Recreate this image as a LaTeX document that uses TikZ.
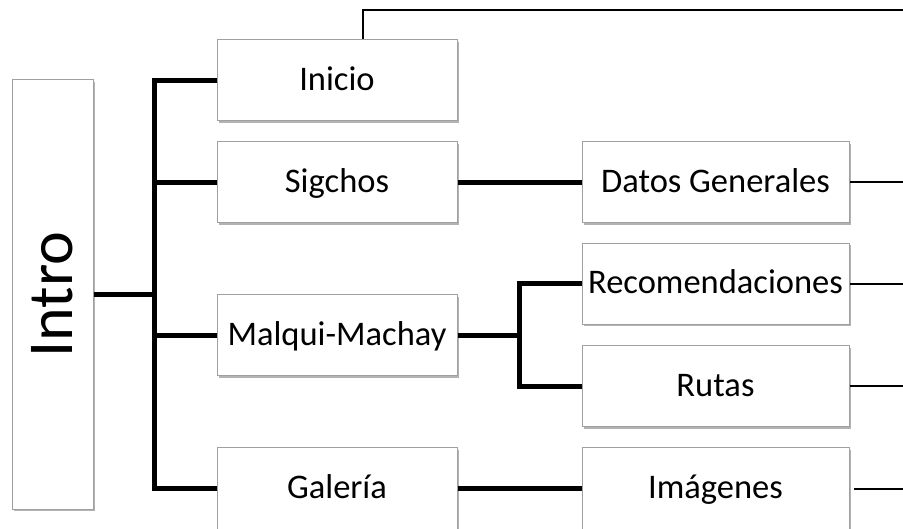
\documentclass[tikz,border=0pt]{standalone}
\usepackage{fontspec}
\setmainfont{Carlito}
\usetikzlibrary{shadows}
\definecolor{boxline}{HTML}{A0A0A0}
\tikzset{
  box/.style={draw=boxline, line width=1pt, fill=white, rectangle, inner sep=0pt,
    minimum width=240pt, minimum height=81pt, font=\fontsize{34.5}{40}\selectfont,
    text height=26pt, text depth=6pt,
    drop shadow={shadow xshift=1.5pt, shadow yshift=-2pt, fill=black!50, opacity=0.6}},
  wbox/.style={box, minimum width=267pt},
  thickline/.style={line width=5pt, black},
  thinline/.style={line width=2pt, black},
}
\begin{document}
\begin{tikzpicture}[x=1pt, y=-1pt]
\useasboundingbox (0,0) rectangle (903,529);
% nodes
\node[box, minimum width=81pt, minimum height=429pt, text height=, text depth=] (intro) at (52.5,294.5)
  {\rotatebox{90}{\fontsize{64}{70}\selectfont Intro}};
\node[box] (inicio) at (337,80.5) {Inicio};
\node[box] (sigchos) at (337,182.5) {Sigchos};
\node[box] (malqui) at (337,335.5) {Malqui-Machay};
\node[box] (galeria) at (337,488.5) {Galería};
\node[wbox] (datos) at (715.5,182.5) {Datos Generales};
\node[wbox] (recom) at (715.5,284) {Recomendaciones};
\node[wbox] (rutas) at (715.5,386.5) {Rutas};
\node[wbox] (imag) at (715.5,488.5) {Imágenes};
% helper coordinates
\coordinate (spine) at (154,0);
\coordinate (mspine) at (519,0);
\coordinate (redge) at (903,0);
\coordinate (topr) at (903,10);
% thick connectors
\draw[thickline] (intro.east) -- (intro.east -| spine);
\draw[thickline, line cap=rect] (spine |- inicio.west) -- (spine |- galeria.west);
\draw[thickline] (spine |- inicio.west) -- (inicio.west);
\draw[thickline] (spine |- sigchos.west) -- (sigchos.west);
\draw[thickline] (spine |- malqui.west) -- (malqui.west);
\draw[thickline] (spine |- galeria.west) -- (galeria.west);
\draw[thickline] (sigchos.east) -- (datos.west);
\draw[thickline] (malqui.east) -- (malqui.east -| mspine);
\draw[thickline, line cap=rect] (mspine |- recom.west) -- (mspine |- rutas.west);
\draw[thickline] (mspine |- recom.west) -- (recom.west);
\draw[thickline] (mspine |- rutas.west) -- (rutas.west);
\draw[thickline] (galeria.east) -- (imag.west);
% thin connectors
\draw[thinline] (datos.east) -- (datos.east -| redge);
\draw[thinline] (recom.east) -- (recom.east -| redge);
\draw[thinline] (rutas.east) -- (rutas.east -| redge);
\draw[thinline] ([xshift=4pt]imag.east) -- (imag.east -| redge);
\draw[thinline] ([xshift=146pt]inicio.north west) |- (topr);
\end{tikzpicture}
\end{document}
